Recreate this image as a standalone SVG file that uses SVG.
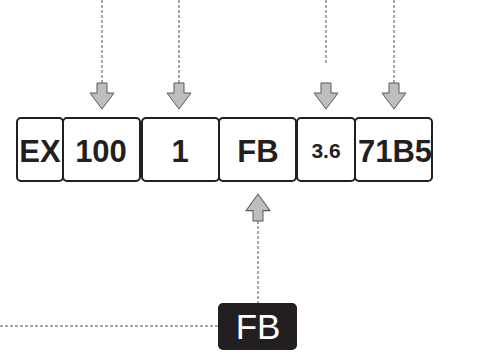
<svg xmlns="http://www.w3.org/2000/svg" width="477" height="360" viewBox="0 0 477 360">
<style>
.box{fill:#fff;stroke:#231f20;stroke-width:2}
.lbl{font-family:"Liberation Sans",Arial,sans-serif;font-weight:bold;fill:#231f20;text-anchor:middle}
.dash{fill:none;stroke:#4d4d4f;stroke-width:1;stroke-dasharray:3 2}
.arr{fill:#bcbec0;stroke:#58595b;stroke-width:1}
</style>
<defs>
<path id="down" d="M-5,0 H5 V10 H12 L0,26 L-12,10 H-5 Z"/>
</defs>
<g id="connectors">
<line class="dash" x1="102" y1="0" x2="102" y2="83"/>
<line class="dash" x1="179" y1="0" x2="179" y2="83"/>
<line class="dash" x1="326" y1="0" x2="326" y2="65"/>
<line class="dash" x1="394" y1="0" x2="394" y2="83"/>
<line class="dash" x1="258" y1="221" x2="258" y2="303"/>
<line class="dash" x1="0" y1="326" x2="218" y2="326"/>
<use href="#down" class="arr" x="102" y="83"/>
<use href="#down" class="arr" x="179" y="83"/>
<use href="#down" class="arr" x="326" y="83"/>
<use href="#down" class="arr" x="394" y="83"/>
<use href="#down" class="arr" transform="translate(258,221) scale(1,-1.038)"/>
</g>
<g id="node-ex"><rect class="box" x="17" y="118" width="46" height="63" rx="4"/><text class="lbl" x="40" y="162" font-size="31">EX</text></g>
<g id="node-100"><rect class="box" x="63" y="118" width="77" height="63" rx="4"/><text class="lbl" x="101" y="162" font-size="31">100</text></g>
<g id="node-1"><rect class="box" x="142" y="118" width="77" height="63" rx="4"/><text class="lbl" x="180" y="162" font-size="31">1</text></g>
<g id="node-fb"><rect class="box" x="219" y="118" width="77" height="63" rx="4"/><text class="lbl" x="258" y="162" font-size="31">FB</text></g>
<g id="node-36"><rect class="box" x="297" y="118" width="58" height="63" rx="4"/><text class="lbl" x="326" y="158" font-size="21">3.6</text></g>
<g id="node-71b5"><rect class="box" x="355" y="118" width="77" height="63" rx="4"/><text class="lbl" x="395" y="162" font-size="31">71B5</text></g>
<g id="node-fb-source"><rect x="218" y="303" width="79" height="47" rx="5" fill="#231f20"/><text x="258" y="339" font-family="'Liberation Sans',Arial,sans-serif" font-size="35" fill="#fff" text-anchor="middle">FB</text></g>
</svg>
